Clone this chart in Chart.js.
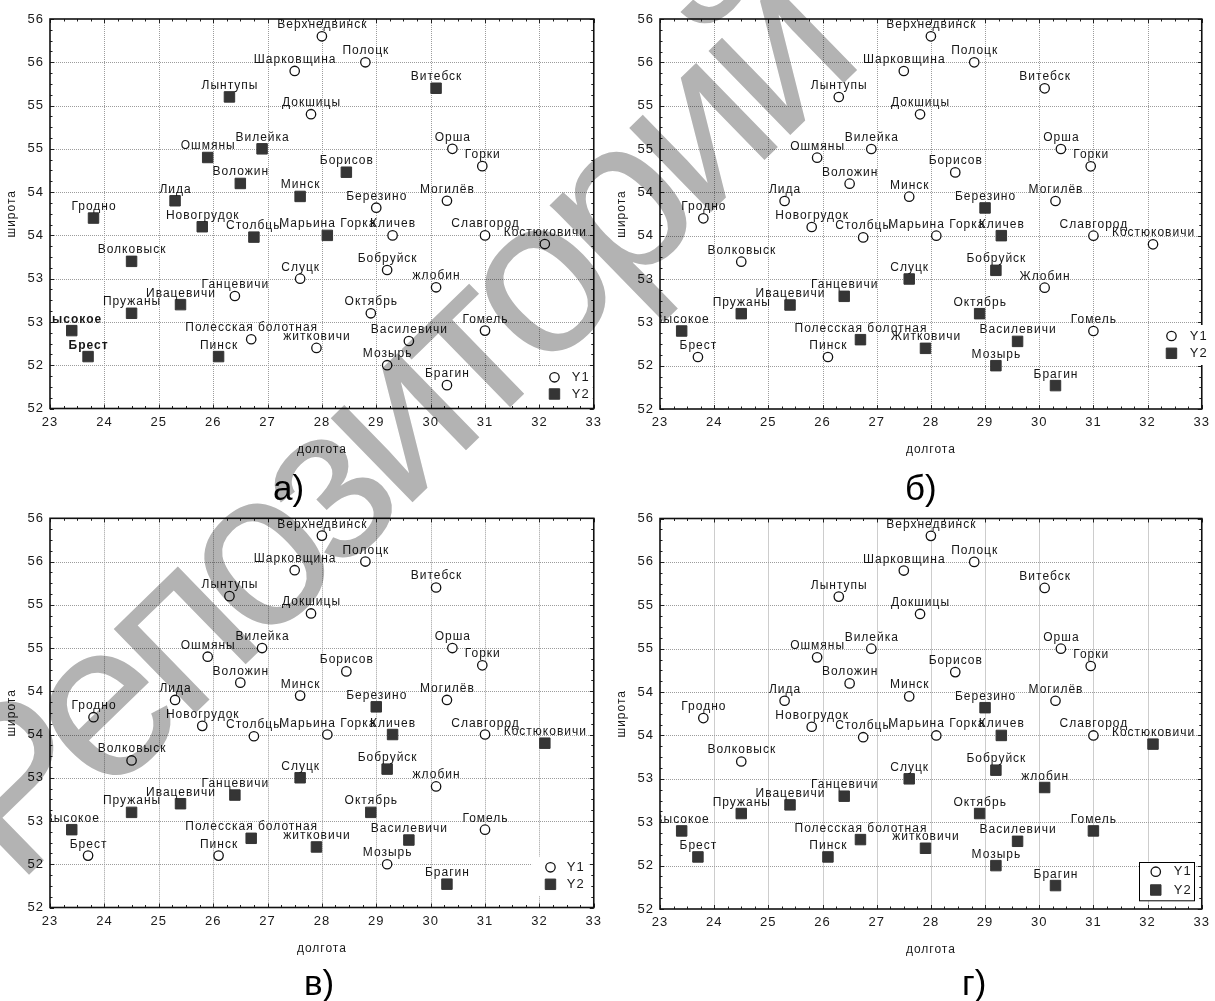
<!DOCTYPE html>
<html><head><meta charset="utf-8">
<script src="https://cdn.jsdelivr.net/npm/chart.js@4.4.0/dist/chart.umd.min.js"></script>
<style>
html,body{margin:0;padding:0;background:#fff;}
body{width:1215px;height:1001px;position:relative;overflow:hidden;font-family:"Liberation Sans",Arial,sans-serif;}
canvas{position:absolute;}
#wm{left:0;top:0;mix-blend-mode:multiply;pointer-events:none;}
.cap{position:absolute;font-size:35px;line-height:35px;color:#000;white-space:nowrap;}
</style></head><body>
<canvas id="pa" width="607" height="470" style="left:0;top:0"></canvas>
<canvas id="pb" width="608" height="470" style="left:607px;top:0"></canvas>
<canvas id="pc" width="607" height="511" style="left:0;top:490px"></canvas>
<canvas id="pd" width="608" height="511" style="left:607px;top:490px"></canvas>
<canvas id="wm" width="1215" height="1001"></canvas>
<div class="cap" style="left:273px;top:470px">а)</div>
<div class="cap" style="left:905px;top:470px">б)</div>
<div class="cap" style="left:304px;top:965px">в)</div>
<div class="cap" style="left:962px;top:965px">г)</div>
<script>
// ---------- data ----------
const cities = ['Верхнедвинск','Полоцк','Шарковщина','Витебск','Лынтупы','Докшицы','Вилейка','Орша','Ошмяны','Горки',
  'Борисов','Воложин','Минск','Лида','Могилёв','Березино','Гродно','Новогрудок','Марьина Горка','Кличев',
  'Славгород','Столбцы','Костюковичи','Волковыск','Бобруйск','Слуцк','Жлобин','Ганцевичи','Ивацевичи','Пружаны',
  'Октябрь','Высокое','Гомель','Полесская болотная','Василевичи','Житковичи','Брест','Пинск','Мозырь','Брагин'];
const longitude = [28.0,28.8,27.5,30.1,26.3,27.8,26.9,30.4,25.9,30.95,
  28.45,26.5,27.6,25.3,30.3,29.0,23.8,25.8,28.1,29.3,
  31.0,26.75,32.1,24.5,29.2,27.6,30.1,26.4,25.4,24.5,
  28.9,23.4,31.0,26.7,29.6,27.9,23.7,26.1,29.2,30.3];
const latitude = [55.8,55.5,55.4,55.2,55.1,54.9,54.5,54.5,54.4,54.3,
  54.23,54.1,53.95,53.9,53.9,53.82,53.7,53.6,53.5,53.5,
  53.5,53.48,53.4,53.2,53.1,53.0,52.9,52.8,52.7,52.6,
  52.6,52.4,52.4,52.3,52.28,52.2,52.1,52.1,52.0,51.77];
// class of each city in each panel (1 = Y1, 2 = Y2)
const groupA = [1,1,1,2,2,1,2,1,2,1, 2,2,2,2,1,1,2,2,2,1, 1,2,1,2,1,1,1,1,2,2, 1,2,1,1,1,1,2,2,1,1];
const groupB = [1,1,1,1,1,1,1,1,1,1, 1,1,1,1,1,2,1,1,1,2, 1,1,1,1,2,2,1,2,2,2, 2,2,1,2,2,2,1,1,2,2];
const groupC = [1,1,1,1,1,1,1,1,1,1, 1,1,1,1,1,2,1,1,1,2, 1,1,2,1,2,2,1,2,2,2, 2,2,1,2,2,2,1,1,1,2];
const groupD = [1,1,1,1,1,1,1,1,1,1, 1,1,1,1,1,2,1,1,1,2, 1,1,2,1,2,2,2,2,2,2, 2,2,2,2,2,2,2,2,2,2];
const lowerNames = {'Жлобин':'жлобин','Житковичи':'житковичи'};
const seriesNames = ['Y1','Y2'];
const xTickLabels = ['23','24','25','26','27','28','29','30','31','32','33'];
const yTickLabels = ['52','52','53','53','54','54','55','55','56','56'];
const axisTitles = ['долгота','широта'];
const watermarkText = 'Репозиторий';

// ---------- style ----------
const FONT = '"Liberation Sans", Arial, sans-serif';
Chart.defaults.font.family = FONT;
const panels = [
  {id:'pa', groups:groupA, lower:true, bold:['Высокое','Брест'], pad:{left:0,top:19,right:11,bottom:11.5},
   legend:{dx:-58,dy:-42.5,w:57,h:38,mx:18.7,my:[11.3,28],tx:36,border:false}},
  {id:'pb', groups:groupB, lower:false, bold:[], pad:{left:3,top:19,right:9,bottom:11},
   legend:{dx:-47,dy:-84,w:56,h:40,mx:16.7,my:[11,28.3],tx:35,border:false}},
  {id:'pc', groups:groupC, lower:true, bold:[], pad:{left:0,top:28.3,right:12,bottom:43.5},
   legend:{dx:-61.7,dy:-50.8,w:56.7,h:39.3,mx:18.4,my:[10.6,27.6],tx:34.7,border:false}},
  {id:'pd', groups:groupD, lower:true, bold:[], pad:{left:3,top:28.5,right:9,bottom:42},
   legend:{dx:-62.7,dy:-47.3,w:56,h:39.3,mx:16.7,my:[10,28.3],tx:34.7,border:true}}
];

const decor = {
  id:'panelDecor',
  beforeDraw(chart){ chart.ctx.letterSpacing = '1px'; },
  beforeDatasetsDraw(chart){
    const {ctx, chartArea:ca, scales:{x, y}} = chart;
    ctx.save();
    ctx.strokeStyle = '#9c9c9c'; ctx.lineWidth = 1; ctx.setLineDash([1,1]);
    x.ticks.forEach(t => {
      if (t.value <= x.min || t.value >= x.max) return;
      const px = Math.round(x.getPixelForValue(t.value)) + 0.5;
      ctx.beginPath(); ctx.moveTo(px, ca.top); ctx.lineTo(px, ca.bottom); ctx.stroke();
    });
    y.ticks.forEach(t => {
      if (t.value <= y.min || t.value >= y.max) return;
      const py = Math.round(y.getPixelForValue(t.value)) + 0.5;
      ctx.beginPath(); ctx.moveTo(ca.left, py); ctx.lineTo(ca.right, py); ctx.stroke();
    });
    ctx.restore();
  },
  afterDatasetsDraw(chart, args, o){
    const {ctx, chartArea:ca, scales:{x, y}} = chart;
    ctx.save();
    ctx.beginPath(); ctx.rect(ca.left, ca.top, ca.right-ca.left, ca.bottom-ca.top); ctx.clip();
    ctx.fillStyle = '#161616'; ctx.textAlign = 'center'; ctx.textBaseline = 'alphabetic';
    chart.data.datasets.forEach((ds, di) => {
      chart.getDatasetMeta(di).data.forEach((el, j) => {
        const name = ds.data[j].name;
        ctx.font = (o.bold.includes(name) ? 'bold ' : '') + '12px ' + FONT;
        ctx.fillText(name, el.x + 0.5, el.y - 8);
      });
    });
    ctx.restore();
    ctx.save();
    ctx.strokeStyle = '#222'; ctx.lineWidth = 1;
    const tick = (x1,y1,x2,y2) => { ctx.beginPath(); ctx.moveTo(x1,y1); ctx.lineTo(x2,y2); ctx.stroke(); };
    for (let v = x.min; v <= x.max + 1e-9; v += 0.25) {
      const px = Math.round(x.getPixelForValue(v)) + 0.5;
      const len = Math.abs(v - Math.round(v)) < 1e-9 ? 4 : 2.5;
      tick(px, ca.top, px, ca.top + len); tick(px, ca.bottom, px, ca.bottom - len);
    }
    for (let v = y.min; v <= y.max + 1e-9; v += 0.125) {
      const py = Math.round(y.getPixelForValue(v)) + 0.5;
      const len = Math.abs(v*2 - Math.round(v*2)) < 1e-9 ? 4 : 2.5;
      tick(ca.left, py, ca.left + len, py); tick(ca.right, py, ca.right - len, py);
    }
    ctx.strokeStyle = '#111'; ctx.lineWidth = 1.6;
    ctx.strokeRect(ca.left, ca.top, ca.right - ca.left, ca.bottom - ca.top);
    ctx.restore();
  },
  afterDraw(chart, args, o){
    const {ctx, chartArea:ca} = chart;
    const lg = o.legend;
    const x0 = ca.right + lg.dx, y0 = ca.bottom + lg.dy;
    ctx.save();
    ctx.fillStyle = '#fff'; ctx.fillRect(x0, y0, lg.w, lg.h);
    if (lg.border) { ctx.strokeStyle = '#000'; ctx.lineWidth = 1; ctx.strokeRect(Math.round(x0)+0.5, Math.round(y0)+0.5, lg.w-1, lg.h-1); }
    chart.data.datasets.forEach((ds, i) => {
      const my = y0 + lg.my[i];
      ctx.fillStyle = ds.pointBackgroundColor; ctx.strokeStyle = ds.pointBorderColor; ctx.lineWidth = ds.pointBorderWidth;
      Chart.helpers.drawPoint(ctx, {pointStyle: ds.pointStyle, radius: ds.pointRadius, borderWidth: ds.pointBorderWidth, rotation: 0}, x0 + lg.mx, my);
      ctx.fillStyle = '#1a1a1a'; ctx.font = '13px ' + FONT; ctx.textAlign = 'left'; ctx.textBaseline = 'middle';
      ctx.fillText(ds.label, x0 + lg.tx, my);
    });
    ctx.restore();
  }
};

panels.forEach(p => {
  const pts = g => cities.map((c, i) => ({x: longitude[i], y: latitude[i], name: (p.lower && lowerNames[c]) ? lowerNames[c] : c, g: p.groups[i]})).filter(d => d.g === g);
  new Chart(document.getElementById(p.id).getContext('2d'), {
    type: 'scatter',
    data: {datasets: [
      {label: seriesNames[0], data: pts(1), pointStyle: 'circle', pointRadius: 4.7, pointHoverRadius: 4.7, pointBorderWidth: 1.3, pointBorderColor: '#111', pointBackgroundColor: '#fff'},
      {label: seriesNames[1], data: pts(2), pointStyle: 'rect', pointRadius: 7.4, pointHoverRadius: 7.4, pointBorderWidth: 1, pointBorderColor: '#353535', pointBackgroundColor: '#353535'}
    ]},
    options: {
      responsive: false, animation: false, devicePixelRatio: 1, events: [],
      layout: {padding: p.pad},
      plugins: {legend: {display: false}, tooltip: {enabled: false},
        panelDecor: {bold: p.bold, legend: p.legend}},
      scales: {
        x: {type: 'linear', min: 23, max: 33,
          ticks: {stepSize: 1, padding: 6, color: '#1a1a1a', font: {size: 13}, autoSkip: false, maxRotation: 0, callback: (v, i) => xTickLabels[i]},
          grid: {display: false, drawTicks: false}, border: {display: false},
          title: {display: true, text: axisTitles[0], color: '#1a1a1a', font: {size: 12}, padding: {top: 0, bottom: 1.8}},
          afterFit: s => { s.height = 50; }},
        y: {type: 'linear', min: 51.5, max: 56,
          ticks: {stepSize: 0.5, padding: 6, color: '#1a1a1a', font: {size: 13}, autoSkip: false, callback: (v, i) => yTickLabels[i]},
          grid: {display: false, drawTicks: false}, border: {display: false},
          title: {display: true, text: axisTitles[1], color: '#1a1a1a', font: {size: 12}, padding: {top: 4.8, bottom: 0}},
          afterFit: s => { s.width = 50; }}
      }
    },
    plugins: [decor]
  });
});

// ---------- repository watermark (diagonal grey text) ----------
(function(){
  const g = document.getElementById('wm').getContext('2d');
  const size = 222;
  const A = {x:265, y:565}, B = {x:548, y:290}; // centres of the two letters "о"
  g.font = size + 'px ' + FONT;
  const dist = Math.hypot(B.x - A.x, B.y - A.y);
  const span0 = g.measureText('озит').width;
  const ls = (dist - span0) / 4;
  const pre0 = g.measureText('Реп').width;
  const oW = g.measureText('о').width;
  g.letterSpacing = ls + 'px';
  g.translate(A.x, A.y);
  g.rotate(Math.atan2(B.y - A.y, B.x - A.x));
  g.fillStyle = '#b3b3b3';
  g.textBaseline = 'alphabetic';
  g.fillText(watermarkText, -(pre0 + 3*ls + oW/2), 0.26*size);
})();
</script>
</body></html>
